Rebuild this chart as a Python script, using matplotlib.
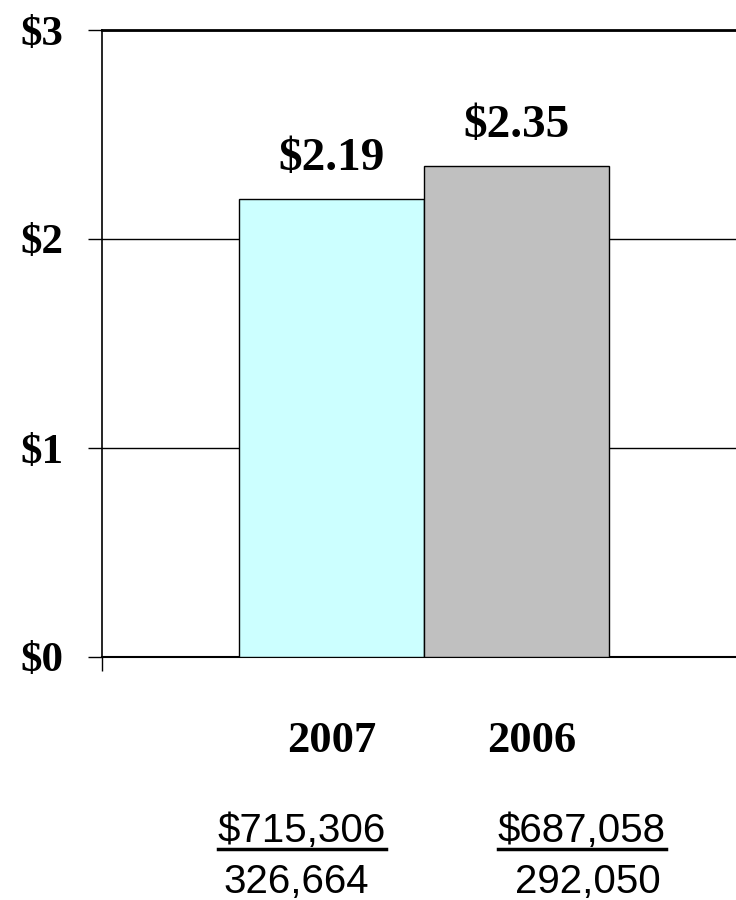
import matplotlib
matplotlib.use("Agg")
import matplotlib.pyplot as plt
from matplotlib.lines import Line2D

# chart values
years = ['2007', '2006']
values = [2.19, 2.35]
value_labels = ['$2.19', '$2.35']
totals = ['$715,306', '$687,058']
counts = ['326,664', '292,050']
bar_colors = ['#CCFFFF', '#C0C0C0']
y_ticks = [0, 1, 2, 3]
y_tick_labels = ['$0', '$1', '$2', '$3']

plt.rcParams['font.family'] = ['Liberation Serif']
plt.rcParams['font.weight'] = 'bold'
plt.rcParams['ytick.labelsize'] = 31

fig = plt.figure(figsize=(7.36, 9), dpi=100)
ax = fig.add_axes([102 / 736, 243 / 900, 634 / 736, 627 / 900])

x = [0, 1]
ax.bar(x, values, width=1.0, color=bar_colors, edgecolor='black', linewidth=1, zorder=3)

ax.set_xlim(-1.2405, 2.1865)
ax.set_ylim(0, 3)
ax.tick_params(axis='y', direction='out', length=10, width=1, pad=18)
ax.tick_params(axis='x', direction='out', length=10, width=1)
ax.set_yticks(y_ticks)
ax.set_yticklabels(y_tick_labels)
ax.set_xticks([-1.2405])
ax.set_xticklabels([''])
ax.yaxis.grid(True, color='black', linewidth=1, zorder=0)
ax.set_axisbelow(True)

ax.spines['right'].set_visible(False)
ax.spines['top'].set_linewidth(2)
ax.spines['bottom'].set_linewidth(1.5)
ax.spines['left'].set_linewidth(1.2)

# value labels above bars
for xi, v, lab in zip(x, values, value_labels):
    ax.text(xi, v + 0.14, lab, ha='center', va='baseline', fontsize=34)

# year labels under the axis
year_x = [0, 1.08]
for xi, yr in zip(year_x, years):
    ax.text(xi, -0.4545, yr, ha='center', va='baseline', fontsize=32, clip_on=False)

# totals (underlined) and counts
total_x = [-0.159, 1.354]
count_x = [-0.19, 1.384]
total_texts = []
for xi, t in zip(total_x, totals):
    total_texts.append(ax.text(xi, -0.885, t, ha='center', va='baseline', fontsize=29,
                               family='Liberation Sans', weight='normal', clip_on=False))
for xi, c in zip(count_x, counts):
    ax.text(xi, -1.129, c, ha='center', va='baseline', fontsize=29,
            family='Liberation Sans', weight='normal', clip_on=False)

fig.canvas.draw()
renderer = fig.canvas.get_renderer()
for t in total_texts:
    bb = t.get_window_extent(renderer)
    base = ax.transData.transform((0, -0.885))[1]
    y0 = (base - 7) / fig.bbox.height
    fig.add_artist(Line2D([bb.x0 / fig.bbox.width, bb.x1 / fig.bbox.width], [y0, y0],
                          color='black', linewidth=2.5))

fig.savefig('out.png', dpi=100)
